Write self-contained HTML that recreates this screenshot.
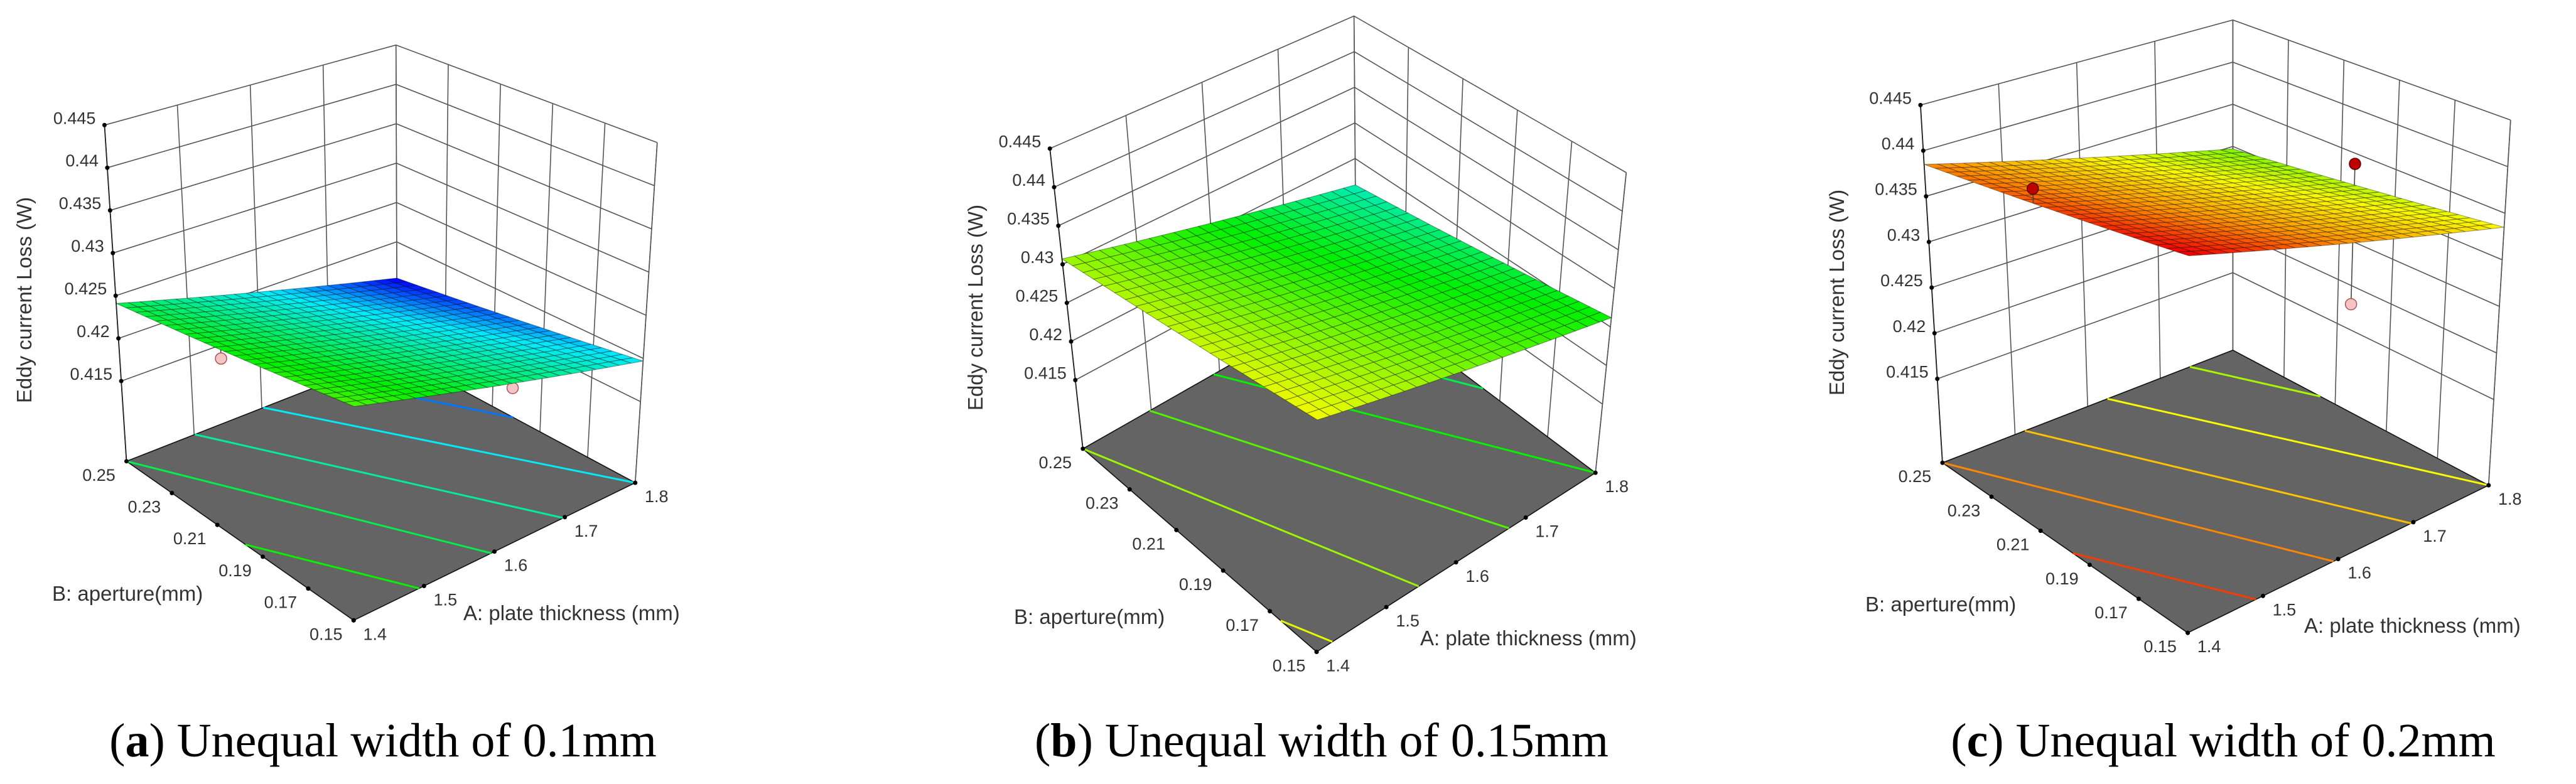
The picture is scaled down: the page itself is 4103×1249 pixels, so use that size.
<!DOCTYPE html>
<html><head><meta charset="utf-8">
<style>
html,body{margin:0;padding:0;background:#fff;}
svg{display:block;}
text{font-family:"Liberation Sans",sans-serif;fill:#333;}
.cap{font-family:"Liberation Serif",serif;fill:#000;}
</style></head>
<body>
<svg id="chart" width="4103" height="1249" viewBox="0 0 4103 1249" xmlns="http://www.w3.org/2000/svg"></svg>
<script>
// ---- data ----
const aTicks = [1.4, 1.5, 1.6, 1.7, 1.8];
const bTicks = [0.15, 0.17, 0.19, 0.21, 0.23, 0.25];
const zTicks = [0.415, 0.42, 0.425, 0.43, 0.435, 0.44, 0.445];
const zTickLabels = ["0.415", "0.42", "0.425", "0.43", "0.435", "0.44", "0.445"];
// corner losses at (1.4,0.15), (1.8,0.15), (1.4,0.25), (1.8,0.25)
const lossA = [0.4283, 0.4197, 0.4241, 0.4154];
const lossB = [0.4333, 0.4262, 0.4307, 0.4213];
const lossC = [0.4432, 0.4335, 0.4385, 0.4297];
const contourA = [0.4153, 0.4175, 0.4197, 0.4219, 0.4241, 0.4263];
const contourB = [0.4217, 0.4239, 0.4262, 0.4284, 0.4307, 0.4329];
const contourC = [0.4285, 0.4310, 0.4335, 0.4360, 0.4385, 0.4410];
// design points: [A, B, loss]
const pointsA = [[1.42, 0.212, 0.4234], [1.618, 0.15, 0.4231]];
const pointsB = [];
const pointsC = [[1.4, 0.2085, 0.4420], [1.8, 0.205, 0.4338], [1.8, 0.205, 0.4179]];
const captions = ["a", "b", "c"];
const captionText = [" Unequal width of 0.1mm", " Unequal width of 0.15mm", " Unequal width of 0.2mm"];

// ---- geometry (layout) ----
const SX = 0.876, SY = 0.797;
const panels = [
  {off:0, loss:lossA, cont:contourA, pts:pointsA, z0:0.4056,
   F:[643,1240],R:[1155,965],L:[230,922],K:[722,710],
   TF:[645,498],TR:[1195,285],TL:[190,250],TK:[720,90],
   zt:[39,478], bt:[83,957], at:[738,988], cap:610},
  {off:1370, loss:lossB, cont:contourB, pts:pointsB, z0:0.4061,
   F:[830,1303],R:[1337,945],L:[405,897],K:[902,586],
   TF:[832,640],TR:[1393,345],TL:[345,297],TK:[898,32],
   zt:[184,490], bt:[245,994], at:[892,1028], cap:2105},
  {off:2733, loss:lossC, cont:contourC, pts:pointsC, z0:0.4058,
   F:[858,1265],R:[1405,970],L:[412,925],K:[940,700],
   TF:[860,475],TR:[1445,240],TL:[372,210],TK:[940,40],
   zt:[193,466], bt:[238,974], at:[937,1008], cap:3541}
];
const Z1 = 0.445;
const NS = "http://www.w3.org/2000/svg";
const svg = document.getElementById('chart');
function mk(tag, attrs, parent){
  const e = document.createElementNS(NS, tag);
  for (const k in attrs) e.setAttribute(k, attrs[k]);
  (parent||svg).appendChild(e); return e;
}
const stops = [[0.4155,[0,0,255]],[0.4195,[0,235,255]],[0.426,[0,240,0]],[0.4335,[250,250,0]],[0.438,[255,150,0]],[0.443,[240,0,0]]];
function cmap(z){
  if (z<=stops[0][0]) return 'rgb('+stops[0][1]+')';
  for (let i=1;i<stops.length;i++){
    if (z<=stops[i][0]){
      const t=(z-stops[i-1][0])/(stops[i][0]-stops[i-1][0]);
      const c=stops[i-1][1].map((v,j)=>Math.round(v+t*(stops[i][1][j]-v)));
      return 'rgb('+c+')';
    }
  }
  return 'rgb('+stops[stops.length-1][1]+')';
}
function bil(P,u,v){
  const a=P[0],b=P[1],c=P[2],d=P[3];
  return [a[0]*(1-u)*(1-v)+b[0]*u*(1-v)+c[0]*(1-u)*v+d[0]*u*v,
          a[1]*(1-u)*(1-v)+b[1]*u*(1-v)+c[1]*(1-u)*v+d[1]*u*v];
}
panels.forEach((p, pi) => {
  const g = mk('g', {});
  
  
  const floorC=[p.F,p.R,p.L,p.K], topC=[p.TF,p.TR,p.TL,p.TK];
  const uOf=A=>(A-1.4)/0.4, vOf=B=>(B-0.15)/0.1;
  function proj(A,B,z){
    const u=uOf(A), v=vOf(B), w=(z-p.z0)/(Z1-p.z0);
    const f=bil(floorC,u,v), t=bil(topC,u,v);
    return [p.off+(f[0]+w*(t[0]-f[0]))*SX, (f[1]+w*(t[1]-f[1]))*SY];
  }
  const surf=(A,B)=>{const u=uOf(A),v=vOf(B),L=p.loss;
    return L[0]*(1-u)*(1-v)+L[1]*u*(1-v)+L[2]*(1-u)*v+L[3]*u*v;};
  const pt=q=>q[0].toFixed(1)+','+q[1].toFixed(1);
  // wall grid
  const wall = mk('g',{stroke:'#555','stroke-width':1.6,fill:'none'},g);
  
  
  aTicks.forEach(A=>{ mk('line',{x1:proj(A,0.25,p.z0)[0],y1:proj(A,0.25,p.z0)[1],x2:proj(A,0.25,Z1)[0],y2:proj(A,0.25,Z1)[1]},wall); });
  bTicks.forEach(B=>{ mk('line',{x1:proj(1.8,B,p.z0)[0],y1:proj(1.8,B,p.z0)[1],x2:proj(1.8,B,Z1)[0],y2:proj(1.8,B,Z1)[1]},wall); });
  zTicks.forEach(z=>{
    mk('polyline',{points:[proj(1.4,0.25,z),proj(1.8,0.25,z),proj(1.8,0.15,z)].map(pt).join(' ')},wall);
  });
  // floor
  const fl = mk('polygon',{points:[proj(1.4,0.15,p.z0),proj(1.8,0.15,p.z0),proj(1.8,0.25,p.z0),proj(1.4,0.25,p.z0)].map(pt).join(' '),fill:'#646464',stroke:'#111','stroke-width':1.6},g);
  
  
  // contours: straight lines between boundary crossings
  p.cont.forEach(lev=>{
    const ends=[];
    const edges=[[[1.4,0.15],[1.8,0.15]],[[1.8,0.15],[1.8,0.25]],[[1.8,0.25],[1.4,0.25]],[[1.4,0.25],[1.4,0.15]]];
    edges.forEach(e=>{
      const za=surf(e[0][0],e[0][1]), zb=surf(e[1][0],e[1][1]);
      if(za===zb) return;
      const t=(lev-za)/(zb-za);
      if(t>=-1e-9&&t<=1+1e-9){
        const q=proj(e[0][0]+t*(e[1][0]-e[0][0]), e[0][1]+t*(e[1][1]-e[0][1]), p.z0);
        if(!ends.some(o=>Math.hypot(o[0]-q[0],o[1]-q[1])<2)) ends.push(q);
      }
    });
    if(ends.length>=2){
      const l=mk('line',{x1:ends[0][0],y1:ends[0][1],x2:ends[1][0],y2:ends[1][1],stroke:cmap(lev),'stroke-width':3},g);
      
      
    }
  });
  // edges and ticks
  mk('line',{x1:proj(1.4,0.25,p.z0)[0],y1:proj(1.4,0.25,p.z0)[1],x2:proj(1.4,0.25,Z1)[0],y2:proj(1.4,0.25,Z1)[1],stroke:'#222','stroke-width':1.8},g);
  mk('line',{x1:proj(1.8,0.15,p.z0)[0],y1:proj(1.8,0.15,p.z0)[1],x2:proj(1.8,0.15,Z1)[0],y2:proj(1.8,0.15,Z1)[1],stroke:'#555','stroke-width':1.6},g);
  zTicks.forEach((z,i)=>{
    const q=proj(1.4,0.25,z);
    mk('circle',{cx:q[0],cy:q[1],r:3.5,fill:'#000'},g);
    const t=mk('text',{x:q[0]-14,y:q[1]-2,'font-size':27,'text-anchor':'end'},g);
    t.textContent=zTickLabels[i];
    
    
  });
  bTicks.forEach(B=>{
    const q=proj(1.4,B,p.z0);
    mk('circle',{cx:q[0],cy:q[1],r:3.5,fill:'#000'},g);
    const t=mk('text',{x:q[0]-44,y:q[1]+31,'font-size':27,'text-anchor':'middle'},g);
    t.textContent=String(B);
    
    
  });
  aTicks.forEach(A=>{
    const q=proj(A,0.15,p.z0);
    mk('circle',{cx:q[0],cy:q[1],r:3.5,fill:'#000'},g);
    const t=mk('text',{x:q[0]+34,y:q[1]+31,'font-size':27,'text-anchor':'middle'},g);
    t.textContent=String(A);
    
    
  });
  function drawPoint(d){
    const s=surf(d[0],d[1]); const above=d[2]>s;
    const q=proj(d[0],d[1],d[2]), qs=proj(d[0],d[1],s);
    mk('line',{x1:q[0],y1:q[1],x2:qs[0],y2:qs[1],stroke:'#444','stroke-width':1.6},g);
    const c=mk('circle',{cx:q[0],cy:q[1],r:9,fill:above?'#c00000':'#f6c4c4',stroke:above?'#500':'#a55','stroke-width':1.5},g);
    
    
  }
  p.pts.filter(d=>d[2]<=surf(d[0],d[1])).forEach(drawPoint);
  // surface mesh
  const sg = mk('g',{stroke:'rgba(0,0,0,0.38)','stroke-width':1.1},g);
  
  
  const N=24;
  for(let i=N-1;i>=0;i--) for(let j=N-1;j>=0;j--){
    const A0=1.4+0.4*i/N, A1=1.4+0.4*(i+1)/N, B0=0.15+0.1*j/N, B1=0.15+0.1*(j+1)/N;
    const q=[proj(A0,B0,surf(A0,B0)),proj(A1,B0,surf(A1,B0)),proj(A1,B1,surf(A1,B1)),proj(A0,B1,surf(A0,B1))];
    mk('polygon',{points:q.map(pt).join(' '),fill:cmap(surf((A0+A1)/2,(B0+B1)/2))},sg);
  }
  p.pts.filter(d=>d[2]>surf(d[0],d[1])).forEach(drawPoint);
  // titles
  const zt=mk('text',{x:0,y:0,'font-size':33,'text-anchor':'middle',transform:'translate('+(p.off+p.zt[0]+11)+','+p.zt[1]+') rotate(-90)'},g);
  zt.textContent='Eddy current Loss (W)';
  
  
  const bt=mk('text',{x:p.off+p.bt[0],y:p.bt[1],'font-size':33},g);
  bt.textContent='B: aperture(mm)';
  
  
  const at=mk('text',{x:p.off+p.at[0],y:p.at[1],'font-size':33},g);
  at.textContent='A: plate thickness (mm)';
  
  
  const cap=mk('text',{x:p.cap,y:1205,'font-size':76,'text-anchor':'middle','class':'cap'},g);
  
  
  const t1=mk('tspan',{},cap); t1.textContent='(';
  const t2=mk('tspan',{'font-weight':'bold'},cap); t2.textContent=captions[pi];
  const t3=mk('tspan',{},cap); t3.textContent=')'+captionText[pi];
});
</script>
</body></html>
